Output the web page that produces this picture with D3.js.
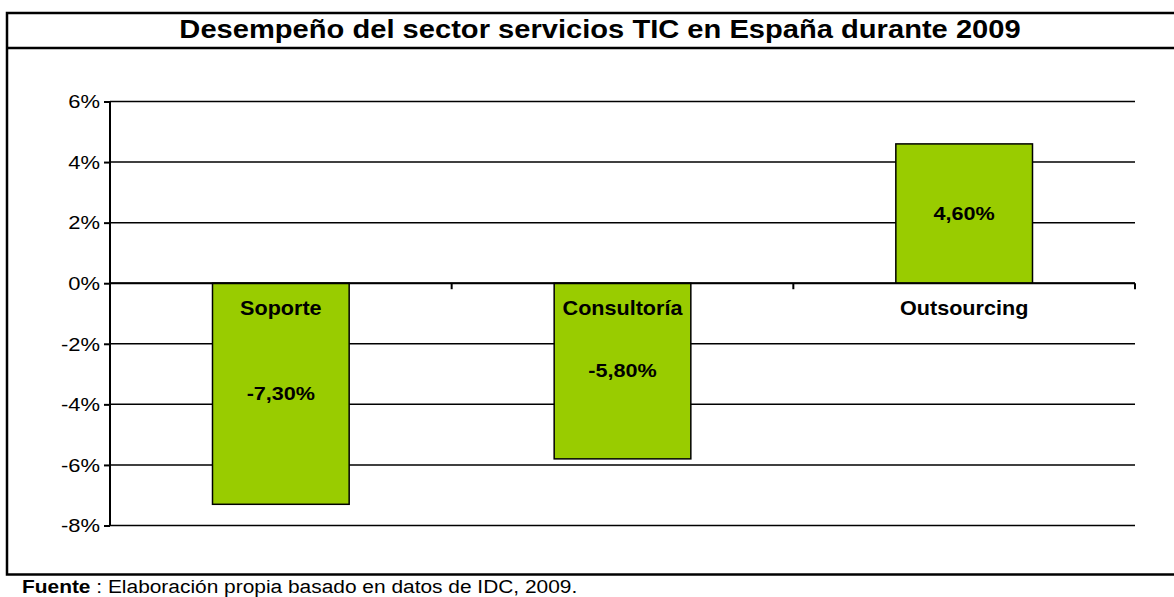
<!DOCTYPE html>
<html>
<head>
<meta charset="utf-8">
<script src="https://cdn.jsdelivr.net/npm/d3@7"></script>
<style>
  body { margin: 0; background: #fff; }
  svg { display: block; font-family: "Liberation Sans", Arial, sans-serif; }
  .grid line { stroke: #000; stroke-width: 1.5; }
  .axis path, .axis line { stroke: #000; stroke-width: 2; }
</style>
</head>
<body>
<svg id="chart" width="1174" height="597"></svg>
<script>
'use strict';

// Datos (IDC, 2009)
var categories = ['Soporte', 'Consultoría', 'Outsourcing'];
var values = [-7.3, -5.8, 4.6];
var yTicks = [-8, -6, -4, -2, 0, 2, 4, 6];
var title = 'Desempeño del sector servicios TIC en España durante 2009';
var sourceLabel = 'Fuente';
var sourceText = ' : Elaboración propia basado en datos de IDC, 2009.';

var svg = d3.select('#chart');
var plot = { left: 110, right: 1135, top: 101.5, bottom: 525.5 };

// Marco exterior y cabecera
svg.append('rect').attr('x', 7).attr('y', 13).attr('width', 1200).attr('height', 561.5)
    .attr('fill', 'none').attr('stroke', '#000').attr('stroke-width', 2.5);
svg.append('line').attr('x1', 7).attr('x2', 1200).attr('y1', 48).attr('y2', 48)
    .attr('stroke', '#000').attr('stroke-width', 2.5);

svg.append('text')
    .attr('transform', 'translate(600,37.5) scale(1.12,1)')
    .attr('text-anchor', 'middle')
    .style('font-size', '26px').style('font-weight', 'bold')
    .text(title);

// Escalas
var x = d3.scaleBand().domain(categories).range([plot.left, plot.right]).paddingInner(0.6).paddingOuter(0.3);
var y = d3.scaleLinear().domain([-8, 6]).range([plot.bottom, plot.top]);

// Rejilla
svg.append('g').attr('class', 'grid')
    .selectAll('line').data(yTicks).enter().append('line')
    .attr('x1', plot.left).attr('x2', plot.right)
    .attr('y1', function (d) { return y(d); }).attr('y2', function (d) { return y(d); });

// Barras
svg.append('g').selectAll('rect').data(values).enter().append('rect')
    .attr('x', function (d, i) { return x(categories[i]); })
    .attr('width', x.bandwidth())
    .attr('y', function (d) { return y(Math.max(0, d)); })
    .attr('height', function (d) { return Math.abs(y(d) - y(0)); })
    .attr('fill', '#99cc00').attr('stroke', '#000').attr('stroke-width', 1.5);

// Eje Y
var axisY = d3.axisLeft(y).tickValues(yTicks).tickSize(6).tickFormat(function (d) { return d + '%'; });
var gy = svg.append('g').attr('class', 'axis')
    .attr('transform', 'translate(' + plot.left + ',0)').call(axisY);
gy.select('.domain').attr('d', 'M0,' + plot.top + 'V' + plot.bottom);
gy.selectAll('text').attr('x', 0).attr('dy', '0.35em')
    .attr('transform', 'translate(-10,0) scale(1.22,1)')
    .style('font-size', '18px').style('font-family', '"Liberation Sans", Arial, sans-serif').attr('fill', '#000');

// Eje X (linea del 0%) con marcas entre categorias
var gx = svg.append('g').attr('class', 'axis').attr('transform', 'translate(0,' + y(0) + ')');
gx.append('line').attr('x1', plot.left).attr('x2', plot.right);
gx.selectAll('.tick-x').data(d3.range(categories.length + 1)).enter().append('line')
    .attr('class', 'tick-x')
    .attr('x1', function (i) { return plot.left + i * x.step(); })
    .attr('x2', function (i) { return plot.left + i * x.step(); })
    .attr('y1', 0).attr('y2', 6);

gx.selectAll('.cat').data(categories).enter().append('text')
    .attr('class', 'cat')
    .attr('transform', function (d) { return 'translate(' + (x(d) + x.bandwidth() / 2) + ',32) scale(1.08,1)'; })
    .attr('text-anchor', 'middle')
    .style('font-size', '20px').style('font-weight', 'bold')
    .text(function (d) { return d; });

// Etiquetas de valor
svg.append('g').selectAll('text').data(values).enter().append('text')
    .attr('transform', function (d, i) {
        return 'translate(' + (x(categories[i]) + x.bandwidth() / 2) + ',' + y(d / 2) + ') scale(1.2,1)';
    })
    .attr('text-anchor', 'middle').attr('dy', '0.35em')
    .style('font-size', '18px').style('font-weight', 'bold')
    .text(function (d) { return d.toFixed(2).replace('.', ',') + '%'; });

// Fuente
var foot = svg.append('text').attr('transform', 'translate(22,593) scale(1.1,1)').style('font-size', '19px');
foot.append('tspan').style('font-weight', 'bold').text(sourceLabel);
foot.append('tspan').text(sourceText);
</script>
</body>
</html>
